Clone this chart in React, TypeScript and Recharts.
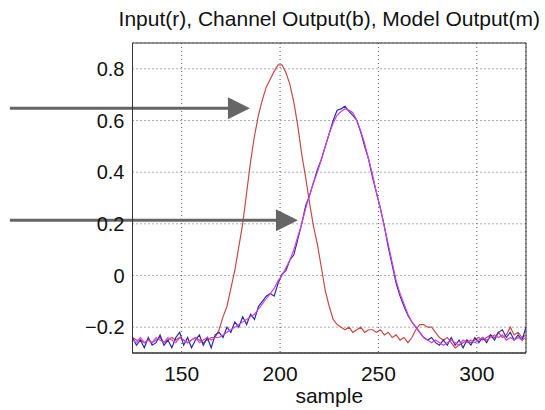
// Input vs. channel output vs. model output, MATLAB-style comparison plot
import {
  LineChart,
  Line,
  XAxis,
  YAxis,
  CartesianGrid,
  ReferenceLine,
  ReferenceArea,
} from "recharts";

const SAMPLES = [
  125, 127, 129, 131, 133, 135, 137, 139, 141, 143, 145, 147, 149, 151, 153, 155, 157, 159, 161, 163,
  165, 167, 169, 171, 173, 175, 177, 179, 181, 183, 185, 187, 189, 191, 193, 195, 197, 199, 201, 203,
  205, 207, 209, 211, 213, 215, 217, 219, 221, 223, 225, 227, 229, 231, 233, 235, 237, 239, 241, 243,
  245, 247, 249, 251, 253, 255, 257, 259, 261, 263, 265, 267, 269, 271, 273, 275, 277, 279, 281, 283,
  285, 287, 289, 291, 293, 295, 297, 299, 301, 303, 305, 307, 309, 311, 313, 315, 317, 319, 321, 323,
  325,
];

// input (red)
const INPUT = [
  -0.24, -0.25, -0.25, -0.26, -0.25, -0.26, -0.25, -0.24, -0.26, -0.25, -0.24, -0.25, -0.24, -0.25, -0.26, -0.25, -0.24, -0.25, -0.26, -0.25,
  -0.24, -0.24, -0.21, -0.16, -0.12, -0.05, 0.02, 0.11, 0.2, 0.32, 0.44, 0.54, 0.62, 0.68, 0.73, 0.76, 0.79, 0.815, 0.815, 0.785,
  0.74, 0.67, 0.58, 0.47, 0.38, 0.28, 0.19, 0.12, 0.03, -0.06, -0.12, -0.17, -0.19, -0.2, -0.21, -0.2, -0.22, -0.21, -0.2, -0.22,
  -0.21, -0.21, -0.22, -0.21, -0.23, -0.22, -0.24, -0.23, -0.25, -0.24, -0.26, -0.24, -0.21, -0.19, -0.19, -0.2, -0.2, -0.22, -0.24, -0.25,
  -0.24, -0.26, -0.28, -0.27, -0.26, -0.25, -0.26, -0.25, -0.24, -0.25, -0.24, -0.23, -0.24, -0.22, -0.24, -0.23, -0.2, -0.23, -0.22, -0.24,
  -0.23,
];

// channel output (blue)
const CHANNEL = [
  -0.24, -0.27, -0.25, -0.28, -0.24, -0.27, -0.26, -0.23, -0.27, -0.25, -0.28, -0.24, -0.22, -0.27, -0.24, -0.28, -0.25, -0.23, -0.27, -0.24,
  -0.28, -0.23, -0.22, -0.24, -0.2, -0.22, -0.18, -0.2, -0.16, -0.19, -0.15, -0.17, -0.12, -0.1, -0.08, -0.07, -0.08, -0.03, 0.005, 0.02,
  0.06, 0.08, 0.14, 0.2, 0.27, 0.31, 0.36, 0.41, 0.45, 0.5, 0.55, 0.6, 0.64, 0.645, 0.655, 0.635, 0.62, 0.6, 0.555, 0.5,
  0.45, 0.38, 0.32, 0.26, 0.19, 0.11, 0.04, -0.03, -0.08, -0.12, -0.155, -0.18, -0.2, -0.22, -0.24, -0.25, -0.24, -0.26, -0.27, -0.25,
  -0.27, -0.24, -0.27, -0.25, -0.28, -0.25, -0.27, -0.24, -0.26, -0.24, -0.26, -0.23, -0.25, -0.22, -0.21, -0.24, -0.22, -0.25, -0.23, -0.25,
  -0.2,
];

// model output (magenta)
const MODEL = [
  -0.25, -0.26, -0.24, -0.26, -0.25, -0.26, -0.24, -0.25, -0.26, -0.24, -0.25, -0.26, -0.24, -0.25, -0.26, -0.25, -0.24, -0.26, -0.25, -0.24,
  -0.25, -0.24, -0.24, -0.23, -0.22, -0.21, -0.2, -0.19, -0.18, -0.17, -0.16, -0.15, -0.13, -0.11, -0.09, -0.07, -0.05, -0.02, 0.0, 0.03,
  0.06, 0.1, 0.15, 0.2, 0.26, 0.31, 0.36, 0.4, 0.45, 0.5, 0.55, 0.59, 0.62, 0.635, 0.645, 0.64, 0.63, 0.6, 0.56, 0.51,
  0.45, 0.39, 0.32, 0.26, 0.19, 0.12, 0.05, -0.02, -0.07, -0.11, -0.15, -0.18, -0.2, -0.22, -0.24, -0.25, -0.26, -0.25, -0.26, -0.27,
  -0.26, -0.25, -0.26, -0.27, -0.25, -0.26, -0.25, -0.26, -0.25, -0.24, -0.25, -0.24, -0.23, -0.24, -0.23, -0.25, -0.24, -0.25, -0.24, -0.25,
  -0.24,
];

const X_DOMAIN = [125, 325];
const Y_DOMAIN = [-0.3, 0.9];
const X_TICKS = [150, 200, 250, 300];
const Y_TICKS = [-0.2, 0, 0.2, 0.4, 0.6, 0.8];

// annotation arrows: [tail, tip] in data coordinates
const ARROW_TOP = [{ x: 62.7, y: 0.647 }, { x: 184.7, y: 0.647 }];
const ARROW_BOTTOM = [{ x: 62.7, y: 0.214 }, { x: 209.1, y: 0.214 }];

const TITLE = "Input(r), Channel Output(b), Model Output(m)";
const FONT = '"Liberation Sans", Arial, Helvetica, sans-serif';

const data = SAMPLES.map((s, i) => ({
  sample: s,
  input: INPUT[i],
  channel: CHANNEL[i],
  model: MODEL[i],
}));

const fmtY = (v: number) => {
  if (v === 0) return "0";
  return v < 0 ? `\u2212${Math.abs(v).toFixed(1)}` : v.toFixed(1);
};

function Arrow(props: any) {
  const { x1, y1, x2 } = props;
  const head = 22;
  const half = 11;
  return (
    <g>
      <line x1={x1} y1={y1} x2={x2 - head + 2} y2={y1} stroke="#666" strokeWidth={3} />
      <polygon
        points={`${x2 - head},${y1 - half} ${x2},${y1} ${x2 - head},${y1 + half}`}
        fill="#666"
      />
    </g>
  );
}

export default function App() {
  return (
    <div style={{ position: "absolute", left: 0, top: 0, width: 545, height: 410, background: "#fff" }}>
      <LineChart
        width={545}
        height={410}
        data={data}
        margin={{ top: 43, right: 19, bottom: 0, left: 0 }}
        style={{ fontFamily: FONT }}
      >
        <CartesianGrid stroke="#555" strokeDasharray="1 3" />
        <XAxis
          dataKey="sample"
          type="number"
          domain={X_DOMAIN}
          ticks={X_TICKS}
          allowDataOverflow
          height={57}
          tickLine={false}
          tickSize={0}
          tickMargin={13}
          axisLine={{ stroke: "#333" }}
          tick={{ fill: "#111", fontSize: 21 }}
          label={{ value: "sample", position: "insideBottom", offset: 7, fill: "#111", fontSize: 21 }}
        />
        <YAxis
          type="number"
          domain={Y_DOMAIN}
          ticks={Y_TICKS}
          allowDataOverflow
          width={132.5}
          tickLine={false}
          tickSize={0}
          tickMargin={8}
          tickFormatter={fmtY}
          axisLine={{ stroke: "#333" }}
          tick={{ fill: "#111", fontSize: 20 }}
        />
        {/* plot box + title */}
        <ReferenceArea
          x1={X_DOMAIN[0]}
          x2={X_DOMAIN[1]}
          y1={Y_DOMAIN[0]}
          y2={Y_DOMAIN[1]}
          fill="none"
          stroke="#333"
          strokeWidth={1}
          ifOverflow="visible"
          label={{ value: TITLE, position: "top", offset: 17, fill: "#111", fontSize: 21 }}
        />
        <Line
          type="linear"
          dataKey="input"
          stroke="#c84a48"
          strokeWidth={1.2}
          dot={false}
          isAnimationActive={false}
        />
        <Line
          type="linear"
          dataKey="channel"
          stroke="#2a2aa8"
          strokeWidth={1.2}
          dot={false}
          isAnimationActive={false}
        />
        <Line
          type="linear"
          dataKey="model"
          stroke="#d040e0"
          strokeWidth={1.2}
          dot={false}
          isAnimationActive={false}
        />
        <ReferenceLine segment={ARROW_TOP} ifOverflow="visible" shape={Arrow} />
        <ReferenceLine segment={ARROW_BOTTOM} ifOverflow="visible" shape={Arrow} />
      </LineChart>
    </div>
  );
}
